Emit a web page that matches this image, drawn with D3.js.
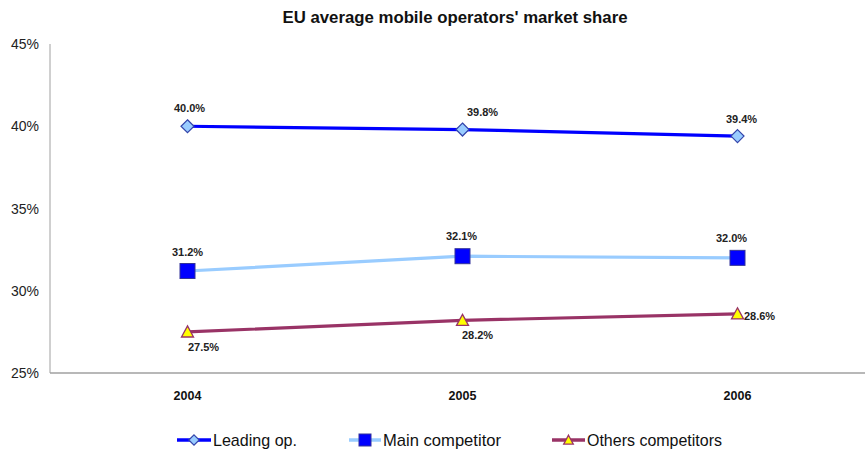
<!DOCTYPE html>
<html><head><meta charset="utf-8">
<script src="https://cdn.jsdelivr.net/npm/d3@7"></script>
<style>body{margin:0;background:#fff;}svg{display:block;font-family:Arial,"Liberation Sans",sans-serif;}</style>
</head><body><svg id="c" width="865" height="454"></svg>
<script>
const title = "EU average mobile operators' market share";
const years = ["2004", "2005", "2006"];
const leading = [40.0, 39.8, 39.4];
const mainComp = [31.2, 32.1, 32.0];
const others = [27.5, 28.2, 28.6];
const yTicks = [25, 30, 35, 40, 45];
const seriesNames = ["Leading op.", "Main competitor", "Others competitors"];

const W = 865, H = 454;
const m = {left: 50, right: -10, top: 44, bottom: 81};
const svg = d3.select("#c");
const x = d3.scaleBand().domain(years).range([m.left, W - m.right]);
const y = d3.scaleLinear().domain([25, 45]).range([H - m.bottom, m.top]);
const cx = d => x(d) + x.bandwidth() / 2;

const styles = [
  {line: "#0000ff", marker: "diamond", fill: "#99ccff", stroke: "#3344aa",
   lab: [[2, -14], [20, -14], [4, -13]], legX: 177, legW: 34, textW: 84},
  {line: "#99ccff", marker: "square", fill: "#0000ff", stroke: "#333399",
   lab: [[0, -15], [-1, -16], [-6, -16]], legX: 349, legW: 32, textW: 118},
  {line: "#993366", marker: "triangle", fill: "#ffff00", stroke: "#993366",
   lab: [[16, 19], [15, 19], [22, 6]], legX: 552, legW: 33, textW: 135}
];
const series = [leading, mainComp, others];

svg.append("text").attr("x", 455).attr("y", 23).attr("text-anchor", "middle")
  .attr("font-size", 16).attr("font-weight", "bold").attr("fill", "#111")
  .attr("textLength", 345).attr("lengthAdjust", "spacingAndGlyphs").text(title);

// axes
svg.append("line").attr("x1", m.left).attr("x2", m.left).attr("y1", y(45)).attr("y2", y(25))
  .attr("stroke", "#a0a0a0").attr("stroke-width", 1);
svg.append("line").attr("x1", m.left).attr("x2", W).attr("y1", y(25)).attr("y2", y(25))
  .attr("stroke", "#a0a0a0").attr("stroke-width", 1.5);

svg.selectAll(".yt").data(yTicks).join("text")
  .attr("x", 39).attr("y", d => y(d) + 5).attr("text-anchor", "end")
  .attr("font-size", 14).attr("fill", "#222")
  .attr("textLength", 28).attr("lengthAdjust", "spacingAndGlyphs").text(d => d + "%");

svg.selectAll(".xt").data(years).join("text")
  .attr("x", d => cx(d)).attr("y", y(25) + 27).attr("text-anchor", "middle")
  .attr("font-size", 12.5).attr("font-weight", "bold").attr("fill", "#111").text(d => d);

function marker(g, type, fill, stroke, s) {
  if (type === "diamond") {
    g.append("path").attr("d", `M0,${-s}L${s},0L0,${s}L${-s},0Z`)
      .attr("fill", fill).attr("stroke", stroke).attr("stroke-width", 1.2);
  } else if (type === "square") {
    g.append("rect").attr("x", -s).attr("y", -s).attr("width", 2 * s).attr("height", 2 * s)
      .attr("fill", fill).attr("stroke", stroke).attr("stroke-width", 1);
  } else {
    g.append("path").attr("d", `M0,${-s}L${s},${s * 0.85}L${-s},${s * 0.85}Z`)
      .attr("fill", fill).attr("stroke", stroke).attr("stroke-width", 1.3);
  }
}
const sizes = {diamond: 6.5, square: 7.5, triangle: 6};

const lineGen = d3.line().x((d, i) => cx(years[i])).y(d => y(d));
series.forEach((vals, si) => {
  const st = styles[si];
  svg.append("path").attr("d", lineGen(vals)).attr("fill", "none")
    .attr("stroke", st.line).attr("stroke-width", 3.2);
  vals.forEach((v, i) => {
    const g = svg.append("g").attr("transform", `translate(${cx(years[i])},${y(v)})`);
    marker(g, st.marker, st.fill, st.stroke, sizes[st.marker]);
    svg.append("text").attr("x", cx(years[i]) + st.lab[i][0]).attr("y", y(v) + st.lab[i][1])
      .attr("text-anchor", "middle").attr("font-size", 11).attr("font-weight", "bold")
      .attr("fill", "#222").text(v.toFixed(1) + "%");
  });
});

// legend
seriesNames.forEach((n, i) => {
  const st = styles[i];
  const ly = 440;
  svg.append("line").attr("x1", st.legX).attr("x2", st.legX + st.legW).attr("y1", ly).attr("y2", ly)
    .attr("stroke", st.line).attr("stroke-width", 3.5);
  const g = svg.append("g").attr("transform", `translate(${st.legX + st.legW / 2},${ly})`);
  marker(g, st.marker, st.fill, st.stroke, sizes[st.marker] * 0.8);
  svg.append("text").attr("x", st.legX + st.legW + 2).attr("y", ly + 6).attr("font-size", 17)
    .attr("fill", "#111").attr("textLength", st.textW).attr("lengthAdjust", "spacingAndGlyphs").text(n);
});
</script></body></html>
